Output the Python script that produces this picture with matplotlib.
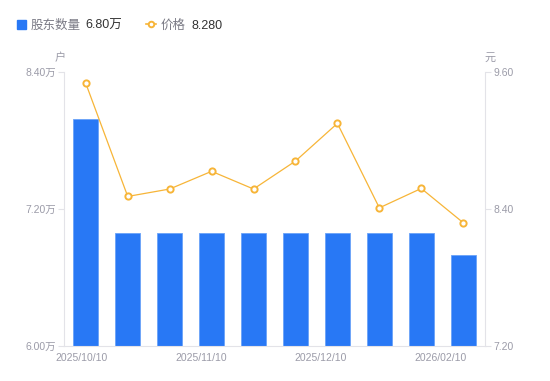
import matplotlib
matplotlib.use('Agg')
import matplotlib.pyplot as plt
import numpy as np

plt.rcParams['font.family'] = ['Liberation Sans', 'Noto Sans CJK SC', 'DejaVu Sans']

# data
holders = [7.99, 6.99, 6.99, 6.99, 6.99, 6.99, 6.99, 6.99, 6.99, 6.80]   # 万户
prices = [9.50, 8.51, 8.575, 8.73, 8.575, 8.82, 9.15, 8.41, 8.58, 8.28]  # 元
date_labels = ['2025/10/10', '2025/11/10', '2025/12/10', '2026/02/10']
left_ticks = [6.00, 7.20, 8.40]
right_ticks = [7.20, 8.40, 9.60]

bar_color = '#2878f5'
line_color = '#f7b538'
tick_color = '#9b9ba8'
axis_color = '#e3e3e8'

fig = plt.figure(figsize=(5.5, 3.81), dpi=100)
ax = fig.add_axes([64 / 550, 1 - 346 / 381, 421 / 550, 274 / 381])
ax2 = ax.twinx()

x = np.arange(len(holders))
ax.bar(x, holders, width=0.6, color=bar_color, edgecolor='#6aa2f8', linewidth=0.6, zorder=2)
ax.set_ylim(6.0, 8.4)
ax.set_xlim(-0.52, len(holders) - 0.48)
ax.set_yticks(left_ticks)
ax.set_yticklabels([f'{v:.2f}万' for v in left_ticks])

ax2.plot(x, prices, color=line_color, lw=0.9, marker='o', ms=4.5,
         mfc='white', mec=line_color, mew=1.4, zorder=3)
ax2.set_ylim(7.2, 9.6)
ax2.set_yticks(right_ticks)
ax2.set_yticklabels([f'{v:.2f}' for v in right_ticks])

# x labels sit a little off the bar centres, as in the source chart
ax.set_xticks(np.linspace(-0.1, 8.45, len(date_labels)))
ax.set_xticklabels(date_labels)

for a in (ax, ax2):
    for s in a.spines.values():
        s.set_visible(False)
    a.tick_params(colors=tick_color, labelsize=7.5, length=4, width=0.8, pad=2)
    a.tick_params(axis='y', color=axis_color)
ax.tick_params(axis='x', length=0, pad=5)
ax.spines['left'].set_visible(True)
ax.spines['left'].set_color(axis_color)
ax.spines['bottom'].set_visible(True)
ax.spines['bottom'].set_color(axis_color)
ax2.spines['right'].set_visible(True)
ax2.spines['right'].set_color(axis_color)

# unit labels
fig.text(60 / 550, 1 - 58 / 381, '户', color=tick_color, fontsize=8, ha='center', va='center')
fig.text(490 / 550, 1 - 58 / 381, '元', color=tick_color, fontsize=8, ha='center', va='center')

# custom legend
ly = 1 - 24 / 381
ty = ly - 2 / 381
fig.patches.append(plt.Rectangle((17 / 550, ly - 4.5 / 381), 9 / 550, 9 / 381,
                                 transform=fig.transFigure, color=bar_color, figure=fig))
fig.text(31 / 550, ty, '股东数量', color='#7a7a85', fontsize=9, va='center')
fig.text(85 / 550, ty, f'{holders[-1]:.2f}万', color='#333333', fontsize=9, va='center')
fig.lines.append(plt.Line2D([146 / 550, 156 / 550], [ly] * 2, transform=fig.transFigure,
                            color=line_color, lw=1.2, figure=fig, zorder=1))
fig.lines.append(plt.Line2D([151 / 550], [ly], transform=fig.transFigure,
                            color=line_color, marker='o', ms=4, mfc='white',
                            mec=line_color, mew=1.4, figure=fig, zorder=2))
fig.text(161 / 550, ty, '价格', color='#7a7a85', fontsize=9, va='center')
fig.text(191 / 550, ty, f'{prices[-1]:.3f}', color='#333333', fontsize=9, va='center')

fig.savefig('out.png', dpi=100)
